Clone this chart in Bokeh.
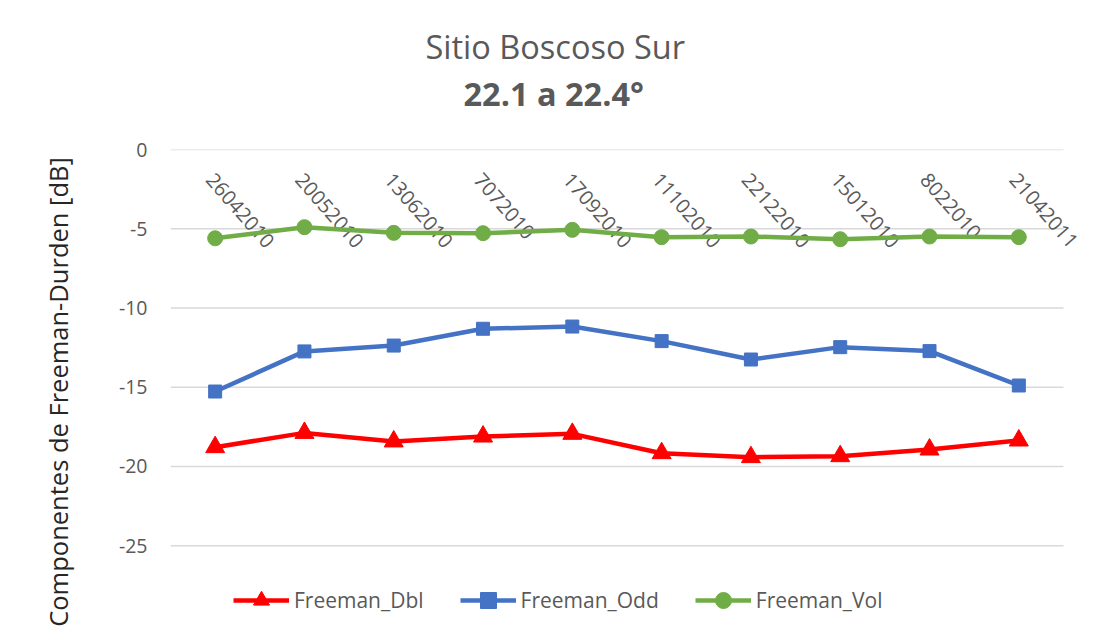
from bokeh.plotting import figure
from bokeh.models import Range1d, FixedTicker, Title, Legend, LegendItem, ColumnDataSource
from bokeh.core.properties import value
from bokeh.embed import file_html
from bokeh.resources import INLINE

categories = ["26042010", "20052010", "13062010", "7072010", "17092010",
              "11102010", "22122010", "15012010", "8022010", "21042011"]
freeman_dbl = [-18.78, -17.88, -18.42, -18.11, -17.94, -19.16, -19.41, -19.35, -18.93, -18.36]
freeman_odd = [-15.27, -12.74, -12.37, -11.31, -11.17, -12.09, -13.25, -12.47, -12.72, -14.89]
freeman_vol = [-5.60, -4.90, -5.26, -5.28, -5.07, -5.53, -5.49, -5.66, -5.49, -5.53]
y_ticks = [0, -5, -10, -15, -20, -25]

title_1 = "Sitio Boscoso Sur"
title_2 = "22.1 a 22.4°"
y_label = "Componentes de Freeman-Durden [dB]"

FONT = "Open Sans"
GREY = "#595959"

n = len(categories)
xs = list(range(n))

# numeric category slots; extra room on the right so the last rotated label is not cut
p = figure(width=1096, height=634, x_range=Range1d(-0.5, n - 0.5 + 0.37),
           y_range=Range1d(-30.6, 0), output_backend="svg", toolbar_location=None,
           min_border_left=170, min_border_right=0, min_border_top=149, min_border_bottom=0)
p.outline_line_color = None
p.background_fill_color = "white"
p.border_fill_color = "white"

p.xaxis.visible = False
p.xgrid.visible = False
p.ygrid.visible = False

# horizontal gridlines limited to the category area
p.segment(x0=[-0.5] * len(y_ticks), x1=[n - 0.5] * len(y_ticks), y0=y_ticks, y1=y_ticks,
          line_color="#D9D9D9", line_width=1.5)

ax = p.yaxis[0]
ax.ticker = FixedTicker(ticks=y_ticks)
ax.major_label_overrides = {t: str(t) for t in y_ticks}
ax.axis_line_color = None
ax.major_tick_line_color = None
ax.minor_tick_line_color = None
ax.major_tick_out = 0
ax.major_tick_in = 0
ax.minor_tick_out = 0
ax.major_label_standoff = 23
ax.major_label_text_font = FONT
ax.major_label_text_font_size = "19.5px"
ax.major_label_text_color = GREY
ax.axis_label = y_label
ax.axis_label_text_font = FONT
ax.axis_label_text_font_size = "25.5px"
ax.axis_label_text_font_style = "normal"
ax.axis_label_text_color = "#262626"
ax.axis_label_standoff = 41

src = ColumnDataSource(dict(x=xs, cat=categories, dbl=freeman_dbl, odd=freeman_odd,
                            vol=freeman_vol, zero=[0] * n))

# category labels along the zero line
p.text(x="x", y="zero", text="cat", source=src, angle=-0.85, text_align="left",
       text_baseline="top", x_offset=0, y_offset=22, text_font=value(FONT),
       text_font_size="20px", text_color=GREY)

series = [("dbl", "Freeman_Dbl", "#FF0000", "triangle", 19),
          ("odd", "Freeman_Odd", "#4472C4", "square", 13),
          ("vol", "Freeman_Vol", "#70AD47", "circle", 15)]
items = []
for col, name, color, marker, size in series:
    ln = p.line(x="x", y=col, source=src, line_color=color, line_width=4.5)
    sc = p.scatter(x="x", y=col, source=src, marker=marker, size=size,
                   fill_color=color, line_color=color)
    items.append(LegendItem(label=name, renderers=[ln, sc]))

legend = Legend(items=items, orientation="horizontal", location=(63, 14),
                glyph_width=56, glyph_height=40, label_standoff=5, spacing=36,
                padding=0, margin=0, border_line_color=None, background_fill_alpha=0,
                label_text_font=FONT, label_text_font_size="21px", label_text_color=GREY)
p.add_layout(legend, "center")

p.title = None
spacer = Title(text=" ", text_font_size="1px", standoff=31)
sub = Title(text=title_2, align="left", offset=293, standoff=0, text_font=FONT,
            text_font_size="32.5px", text_font_style="bold", text_color=GREY)
main = Title(text=title_1, align="left", offset=255, standoff=0, text_font=FONT,
             text_font_size="32.5px", text_font_style="normal", text_color=GREY)
p.add_layout(spacer, "above")
p.add_layout(sub, "above")
p.add_layout(main, "above")

open("out.html", "w").write(file_html(p, INLINE))
